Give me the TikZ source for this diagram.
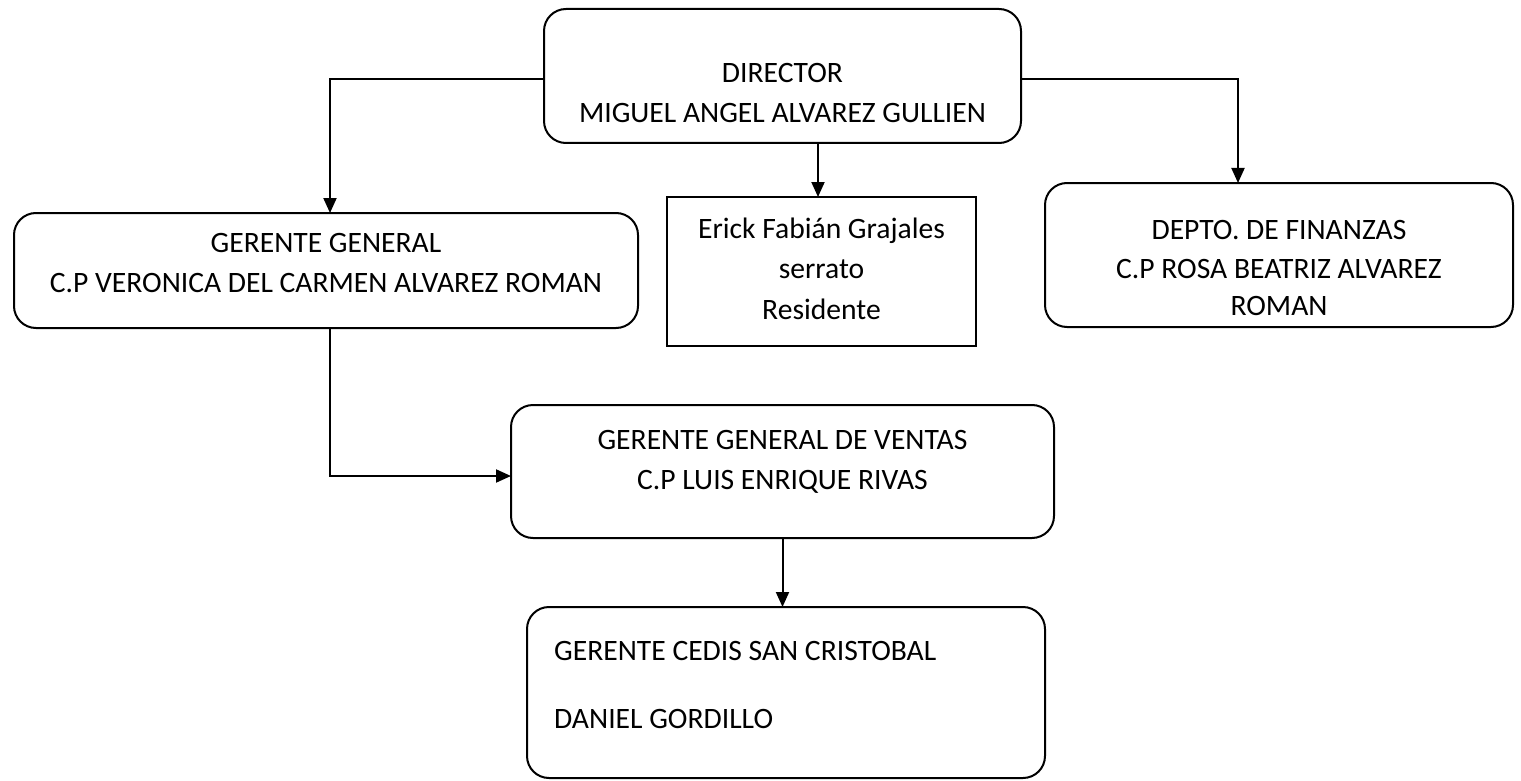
\documentclass[tikz,border=0pt]{standalone}
\usepackage{fontspec}
\setmainfont{Carlito}
\usetikzlibrary{arrows.meta}
\begin{document}
\begin{tikzpicture}[x=1pt,y=-1pt,
  rbox/.style={draw,line width=2pt,rounded corners=22pt,inner sep=0pt,outer sep=0pt},
  sbox/.style={draw,line width=2pt,inner sep=0pt,outer sep=0pt},
  txt/.style={inner sep=0pt,anchor=base,font=\fontsize{29.6}{40}\selectfont},
  ltxt/.style={inner sep=0pt,anchor=base west,font=\fontsize{29.6}{40}\selectfont},
  arr/.style={line width=2pt,-{Triangle[length=15pt,width=13pt]}}]
\useasboundingbox (0,0) rectangle (1521,781);
% boxes
\node[rbox,minimum width=477pt,minimum height=134pt] (dir) at (782.5,76) {};
\node[rbox,minimum width=624pt,minimum height=115pt] (gg) at (326,270.5) {};
\node[sbox,minimum width=309pt,minimum height=149pt] (eri) at (821.5,271.5) {};
\node[rbox,minimum width=468pt,minimum height=144pt] (fin) at (1279,255) {};
\node[rbox,minimum width=543pt,minimum height=133pt] (ven) at (782.5,471.5) {};
\node[rbox,minimum width=518pt,minimum height=171pt] (ced) at (786,692.5) {};
% texts
\node[txt] (dir1) at (782.5,83) {DIRECTOR};
\node[txt] (dir2) at (782.5,123) {MIGUEL ANGEL ALVAREZ GULLIEN};
\node[txt] (gg1) at (326,252) {GERENTE GENERAL};
\node[txt] (gg2) at (326,292) {C.P VERONICA DEL CARMEN ALVAREZ ROMAN};
\node[txt] (eri1) at (821.5,238) {Erick Fabián Grajales};
\node[txt] (eri2) at (821.5,278) {serrato};
\node[txt] (eri3) at (821.5,319) {Residente};
\node[txt] (fin1) at (1279,239) {DEPTO. DE FINANZAS};
\node[txt] (fin2) at (1279,278) {C.P ROSA BEATRIZ ALVAREZ};
\node[txt] (fin3) at (1279,315) {ROMAN};
\node[txt] (ven1) at (782.5,449) {GERENTE GENERAL DE VENTAS};
\node[txt] (ven2) at (782.5,489) {C.P LUIS ENRIQUE RIVAS};
\node[ltxt] (ced1) at (554,660) {GERENTE CEDIS SAN CRISTOBAL};
\node[ltxt] (ced2) at (554,728) {DANIEL GORDILLO};
% connectors
\draw[arr] ([yshift=-3pt]dir.west) -| ([xshift=4pt]gg.north);
\draw[arr] ([yshift=-3pt]dir.east) -| ([xshift=-41pt]fin.north);
\draw[arr] ([xshift=-3.5pt]eri.north |- dir.south) -- ([xshift=-3.5pt]eri.north);
\draw[arr] ([xshift=4pt]gg.south) |- ([yshift=-4.5pt]ven.west);
\draw[arr] (ven.south) -- (ven.south |- ced.north);
\end{tikzpicture}
\end{document}
